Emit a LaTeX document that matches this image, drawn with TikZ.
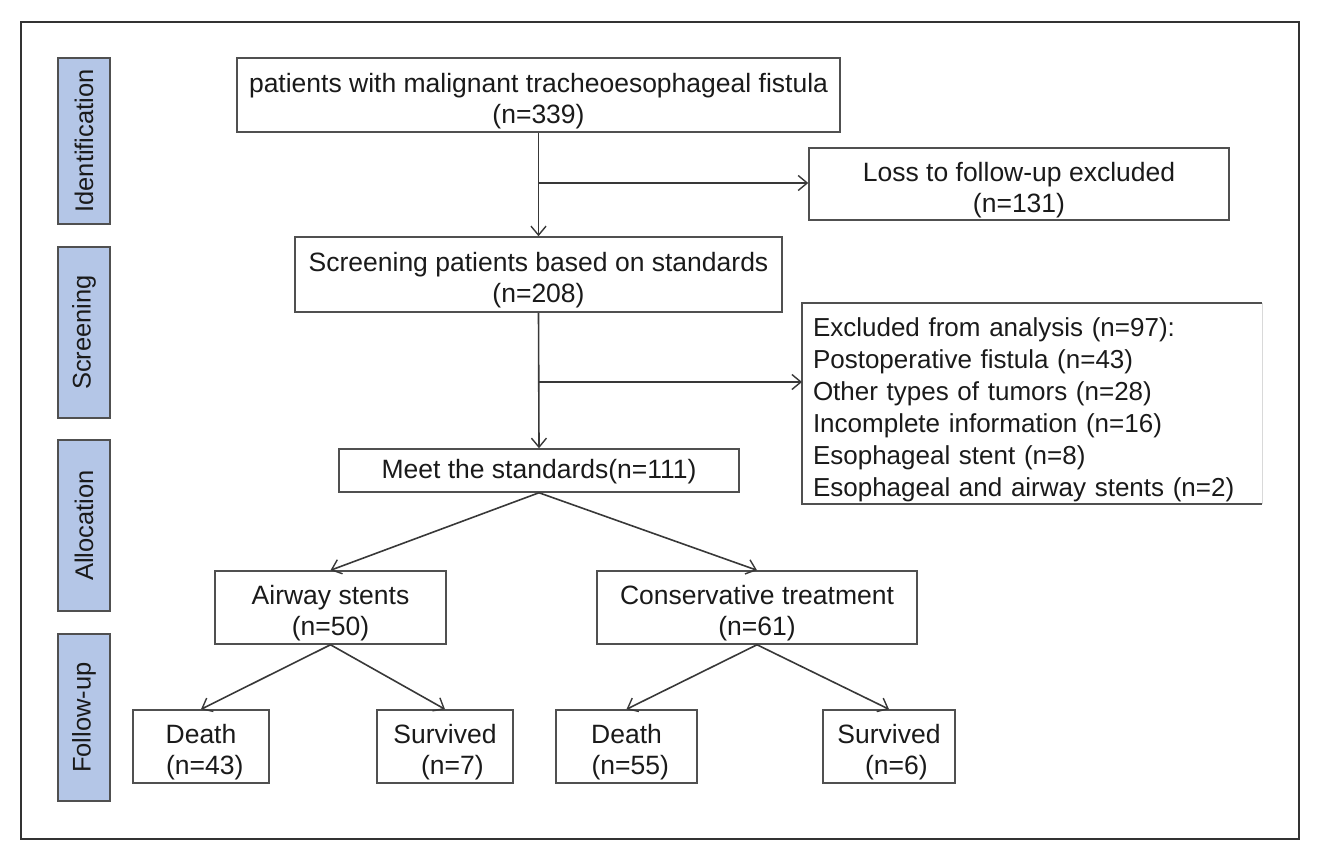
\documentclass[tikz,border=0pt]{standalone}
\usepackage{fontspec}
\setmainfont{Liberation Sans}
\usetikzlibrary{arrows.meta}
\definecolor{txt}{HTML}{1A1A1A}
\definecolor{edge}{HTML}{505050}
\definecolor{lab}{HTML}{B4C6E7}
\newcommand{\fs}{\rule{0pt}{31pt}}
\begin{document}
\begin{tikzpicture}[x=1pt,y=-1pt,
  every node/.style={text=txt},
  box/.style={draw=edge, line width=1.5pt, rectangle, inner sep=0pt, align=center,
    font=\fontsize{26.5}{31}\selectfont},
  sidelab/.style={draw=edge, fill=lab, line width=1.5pt, rectangle, inner sep=0pt,
    minimum height=52pt, rotate=90, font=\fontsize{25.5}{30}\selectfont},
  conn/.style={draw=edge!70!black, line width=1.6pt, -{Straight Barb[length=9pt,width=15pt,line width=1.4pt]}}]
\useasboundingbox (0,0) rectangle (1319,859);
\draw[line width=2pt, draw=black!80] (21,22) rectangle (1299,839);

% side labels
\node[sidelab, minimum width=166pt] (lid) at (84,141) {Identification};
\node[sidelab, minimum width=171pt] (lsc) at (84,332.5) {Screening};
\node[sidelab, minimum width=171pt] (lal) at (84,525.5) {Allocation};
\node[sidelab, minimum width=167pt] (lfu) at (84,717.5) {Follow-up};

% boxes
\node[box, minimum width=603pt, minimum height=74pt] (top) at (538.5,95)
  {\fs patients with malignant tracheoesophageal fistula\\(n=339)};
\node[box, minimum width=420pt, minimum height=72pt] (loss) at (1019,184)
  {\fs Loss to follow-up excluded\\(n=131)};
\node[box, minimum width=487pt, minimum height=75pt] (scr) at (538.5,274.5)
  {\fs Screening patients based on standards\\(n=208)};
\node[rectangle, inner xsep=11pt, inner ysep=0pt, minimum width=460pt, minimum height=201pt,
  text width=438pt, align=left, font=\fontsize{26}{32}\selectfont] (excl) at (1032,410)
  {Excluded from analysis (n=97):\\Postoperative fistula (n=43)\\Other types of tumors (n=28)\\Incomplete information (n=16)\\Esophageal stent (n=8)\\Esophageal and airway stents (n=2)};
\coordinate (exne) at (1262,303);
\coordinate (exnw) at (802,303);
\coordinate (exsw) at (802,504);
\coordinate (exse) at (1262,504);
\draw[draw=edge, line width=1.5pt] (exne) -- (exnw) -- (exsw) -- (exse);
\draw[draw=black!15, line width=1pt] (exne) -- (exse);
\node[box, minimum width=400pt, minimum height=43pt] (meet) at (539,470.5)
  {\rule{0pt}{22pt}Meet the standards(n=111)};
\node[box, minimum width=231pt, minimum height=73pt] (air) at (330.5,607.5)
  {\fs Airway stents\\(n=50)};
\node[box, minimum width=320pt, minimum height=73pt] (cons) at (757,607.5)
  {\fs Conservative treatment\\(n=61)};
\node[box, minimum width=136pt, minimum height=73pt] (d1) at (201,746.5)
  {\fs Death\\\ (n=43)};
\node[box, minimum width=136pt, minimum height=73pt] (s1) at (445,746.5)
  {\fs Survived\\\ \ (n=7)};
\node[box, minimum width=141pt, minimum height=73pt] (d2) at (626.5,746.5)
  {\fs Death\\\ (n=55)};
\node[box, minimum width=132pt, minimum height=73pt] (s2) at (889,746.5)
  {\fs Survived\\\ \ (n=6)};

% connectors
\coordinate (b1) at (538.5,183);
\coordinate (b2) at (538.5,382);
\draw[conn] (top.south) -- (scr.north);
\draw[conn] (b1) -- (b1 -| loss.west);
\draw[conn] (scr.south) -- (meet.north);
\draw[conn] (b2) -- (b2 -| exnw);
\draw[conn] (meet.south) -- (air.north);
\draw[conn] (meet.south) -- (cons.north);
\draw[conn] (air.south) -- (d1.north);
\draw[conn] (air.south) -- (s1.north);
\draw[conn] (cons.south) -- (d2.north);
\draw[conn] (cons.south) -- (s2.north);
\end{tikzpicture}
\end{document}
